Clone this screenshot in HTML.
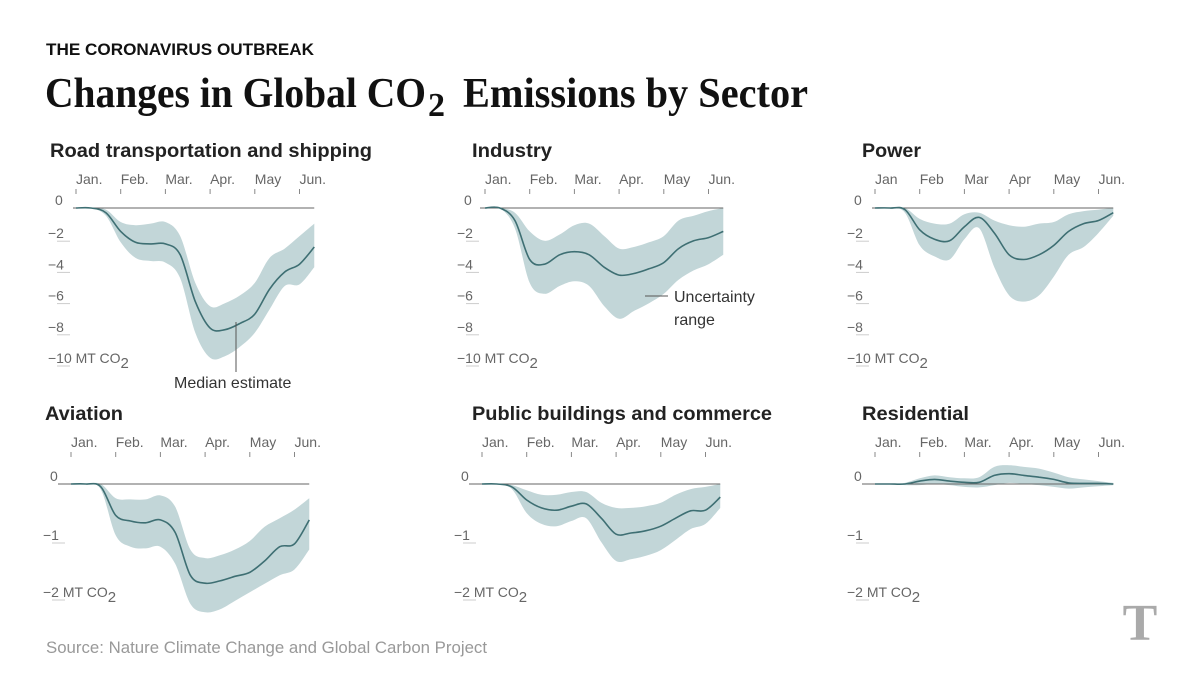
<!DOCTYPE html>
<html><head><meta charset="utf-8"><style>
html,body{margin:0;padding:0;background:#fff;}
svg{display:block;font-family:"Liberation Sans",sans-serif;}
.mo{font-size:14px;fill:#666;}
.yl{font-size:14px;fill:#666;}
.pt{font-size:19px;font-weight:bold;fill:#222;}
</style></head><body>
<svg id="chart" width="1200" height="675" viewBox="0 0 1200 675">
<text x="46" y="55" font-size="17" font-weight="bold" fill="#111" textLength="268" lengthAdjust="spacingAndGlyphs">THE CORONAVIRUS OUTBREAK</text>
<g font-family="Liberation Serif,serif" font-weight="bold" fill="#111">
<text x="45" y="107" font-size="42" textLength="381" lengthAdjust="spacingAndGlyphs">Changes in Global CO</text>
<text x="428" y="116" font-size="34">2</text>
<text x="463" y="107" font-size="42" textLength="345" lengthAdjust="spacingAndGlyphs">Emissions by Sector</text>
</g>
<g id="panels"></g>
<text x="46" y="653" font-size="16.5" fill="#999" textLength="441" lengthAdjust="spacingAndGlyphs">Source: Nature Climate Change and Global Carbon Project</text>
<text x="1140" y="640" font-family="Liberation Serif,serif" font-size="52" font-weight="bold" fill="#aaa" text-anchor="middle">T</text>
</svg>
<script>
const T = [0,0.33,0.67,1,1.33,1.67,2,2.33,2.67,3,3.33,3.67,4,4.33,4.67,5,5.33];
const monthsA = ["Jan.","Feb.","Mar.","Apr.","May","Jun."];
const monthsB = ["Jan","Feb","Mar","Apr","May","Jun."];
const topTicks = [0,-2,-4,-6,-8,-10];
const botTicks = [0,-1,-2];
const roadMed = [0,0,-0.3,-1.5,-2.2,-2.3,-2.3,-3.0,-6.0,-7.7,-7.8,-7.4,-6.8,-5.2,-4.1,-3.6,-2.5];
const roadHi  = [0,0,-0.1,-0.9,-1.1,-1.0,-0.9,-1.8,-4.8,-6.3,-6.1,-5.6,-4.8,-3.2,-2.6,-1.8,-1.0];
const roadLo  = [0,0,-0.5,-2.2,-3.2,-3.4,-3.5,-4.5,-8.0,-9.6,-9.5,-8.9,-8.0,-6.5,-5.0,-4.9,-3.8];
const indMed = [0,0,-0.8,-3.3,-3.6,-3.0,-2.8,-3.0,-3.8,-4.3,-4.2,-3.9,-3.5,-2.6,-2.1,-1.9,-1.5];
const indHi  = [0,0,-0.3,-1.5,-2.1,-1.7,-1.1,-1.0,-1.8,-2.6,-2.5,-2.2,-1.8,-0.8,-0.5,-0.2,0];
const indLo  = [0,0,-1.3,-4.8,-5.5,-5.0,-4.7,-5.0,-6.3,-7.1,-6.6,-6.1,-5.5,-4.6,-4.0,-3.6,-3.0];
const powMed = [0,0,-0.1,-1.4,-2.0,-2.1,-1.2,-0.6,-1.6,-3.0,-3.3,-3.0,-2.4,-1.5,-1.0,-0.8,-0.3];
const powHi  = [0,0,0,-0.7,-1.0,-1.0,-0.4,-0.3,-0.8,-1.1,-1.2,-1.0,-0.9,-0.4,-0.2,-0.1,0];
const powLo  = [0,0,-0.3,-2.4,-3.1,-3.3,-2.0,-1.3,-3.8,-5.6,-6.0,-5.6,-4.4,-3.0,-2.5,-1.6,-0.5];
const aviMed = [0,0,-0.05,-0.55,-0.65,-0.68,-0.63,-0.85,-1.6,-1.74,-1.7,-1.62,-1.55,-1.35,-1.1,-1.05,-0.63];
const aviHi  = [0,0,0,-0.25,-0.27,-0.27,-0.2,-0.4,-1.15,-1.3,-1.25,-1.15,-1.0,-0.75,-0.6,-0.45,-0.25];
const aviLo  = [0,0,-0.1,-0.9,-1.1,-1.13,-1.1,-1.4,-2.1,-2.25,-2.2,-2.05,-1.9,-1.75,-1.6,-1.5,-1.15];
const pubMed = [0,0,-0.05,-0.28,-0.42,-0.46,-0.39,-0.35,-0.6,-0.88,-0.86,-0.82,-0.74,-0.6,-0.47,-0.46,-0.23];
const pubHi  = [0,0,-0.02,-0.11,-0.19,-0.19,-0.14,-0.14,-0.33,-0.42,-0.42,-0.39,-0.33,-0.19,-0.09,-0.05,0];
const pubLo  = [0,0,-0.09,-0.51,-0.7,-0.74,-0.65,-0.6,-1.02,-1.35,-1.32,-1.26,-1.16,-0.98,-0.79,-0.7,-0.42];
const resMed = [0,0,0,0.05,0.08,0.05,0.03,0.03,0.15,0.18,0.15,0.12,0.08,0.02,0.01,0.01,0];
const resHi  = [0,0,0.02,0.1,0.15,0.12,0.1,0.12,0.3,0.33,0.3,0.27,0.2,0.12,0.08,0.05,0.02];
const resLo  = [0,0,-0.02,-0.02,0,-0.02,-0.05,-0.06,-0.02,0.02,0,-0.02,-0.05,-0.08,-0.06,-0.04,-0.02];

const NS="http://www.w3.org/2000/svg";
const root=document.getElementById('panels');
function mk(tag,attrs,parent){const e=document.createElementNS(NS,tag);for(const k in attrs)e.setAttribute(k,attrs[k]);(parent||root).appendChild(e);return e;}
function smooth(pts){let d="M"+pts[0][0]+","+pts[0][1];for(let i=0;i<pts.length-1;i++){const p0=pts[Math.max(0,i-1)],p1=pts[i],p2=pts[i+1],p3=pts[Math.min(pts.length-1,i+2)];const c1x=p1[0]+(p2[0]-p0[0])/6,c1y=p1[1]+(p2[1]-p0[1])/6,c2x=p2[0]-(p3[0]-p1[0])/6,c2y=p2[1]-(p3[1]-p1[1])/6;d+=" C"+c1x.toFixed(1)+","+c1y.toFixed(1)+" "+c2x.toFixed(1)+","+c2y.toFixed(1)+" "+p2[0].toFixed(1)+","+p2[1].toFixed(1);}return d;}

const panels=[
 {name:"road",title:"Road transportation and shipping",tw:322,tx:50,ty:157,x0:76,y0:208,k:15.6,ticks:topTicks,months:monthsA,med:roadMed,hi:roadHi,lo:roadLo,lineStart:-3,mty:184},
 {name:"industry",title:"Industry",tw:80,tx:472,ty:157,x0:485,y0:208,k:15.6,ticks:topTicks,months:monthsA,med:indMed,hi:indHi,lo:indLo,lineStart:-5,mty:184},
 {name:"power",title:"Power",tw:59,tx:862,ty:157,x0:875,y0:208,k:15.6,ticks:topTicks,months:monthsB,med:powMed,hi:powHi,lo:powLo,lineStart:-3,mty:184},
 {name:"aviation",title:"Aviation",tw:78,tx:45,ty:420,x0:71,y0:484,k:57,ticks:botTicks,months:monthsA,med:aviMed,hi:aviHi,lo:aviLo,lineStart:-13,mty:447},
 {name:"public-buildings",title:"Public buildings and commerce",tw:300,tx:472,ty:420,x0:482,y0:484,k:57,ticks:botTicks,months:monthsA,med:pubMed,hi:pubHi,lo:pubLo,lineStart:-13,mty:447},
 {name:"residential",title:"Residential",tw:107,tx:862,ty:420,x0:875,y0:484,k:57,ticks:botTicks,months:monthsA,med:resMed,hi:resHi,lo:resLo,lineStart:-13,mty:447}
];
const MW=44.7;
panels.forEach(p=>{
 const g=mk('g',{});
 
 
 const xs=t=>p.x0+t*MW, ys=v=>p.y0-v*p.k;
 const t1=mk('text',{x:p.tx,y:p.ty,class:'pt',textLength:p.tw,lengthAdjust:'spacingAndGlyphs'},g);t1.textContent=p.title;
 
 
 p.months.forEach((m,i)=>{
  const x=xs(i);
  const tt=mk('text',{x:x,y:p.mty,class:'mo'},g);tt.textContent=m;
  
  
  const tk=mk('line',{x1:x,x2:x,y1:p.mty+5,y2:p.mty+10,stroke:'#888','stroke-width':1},g);
  
  
 });
 p.ticks.forEach((v,i)=>{
  const y=ys(v);
  const last=i===p.ticks.length-1;
  const lx = v===0 ? p.x0-21 : p.x0-28;
  const ty = v===0 ? y-3 : y-1;
  const yl=mk('text',{x:lx,y:ty,class:'yl'},g);
  yl.textContent=(v===0?"0":"\u2212"+Math.abs(v))+(last?" MT CO":"");
  if(last){const s=mk('tspan',{dy:5,'font-size':'15'},yl);s.textContent="2";}
  
  
  if(v!==0){const ul=mk('line',{x1:p.x0-19,x2:p.x0-6,y1:y+2,y2:y+2,stroke:'#ccc','stroke-width':1},g);
   
   }
 });
 const up=T.map((t,i)=>[xs(t),ys(p.hi[i])]);
 const dn=T.map((t,i)=>[xs(t),ys(p.lo[i])]).reverse();
 const bd=smooth(up)+" L"+dn[0][0]+","+dn[0][1]+smooth(dn).replace(/^M[^ C]+/,'')+" Z";
 const band=mk('path',{d:bd,fill:'#c2d6d8',stroke:'none'},g);
 
 
 const ax=mk('line',{x1:p.x0+p.lineStart,x2:xs(T[T.length-1]),y1:p.y0,y2:p.y0,stroke:'#666','stroke-width':1},g);
 
 
 const ml=mk('path',{d:smooth(T.map((t,i)=>[xs(t),ys(p.med[i])])),fill:'none',stroke:'#3e6f73','stroke-width':1.6},g);
 
 
});
const a1=mk('line',{x1:236,x2:236,y1:322,y2:372,stroke:'#555','stroke-width':1});


const a2=mk('text',{x:174,y:388,'font-size':'16',fill:'#333'});a2.textContent="Median estimate";


const a3=mk('line',{x1:645,x2:668,y1:296,y2:296,stroke:'#555','stroke-width':1});


const a4=mk('text',{x:674,y:302,'font-size':'16',fill:'#333'});a4.textContent="Uncertainty";


const a5=mk('text',{x:674,y:325,'font-size':'16',fill:'#333'});a5.textContent="range";


</script>
</body></html>
